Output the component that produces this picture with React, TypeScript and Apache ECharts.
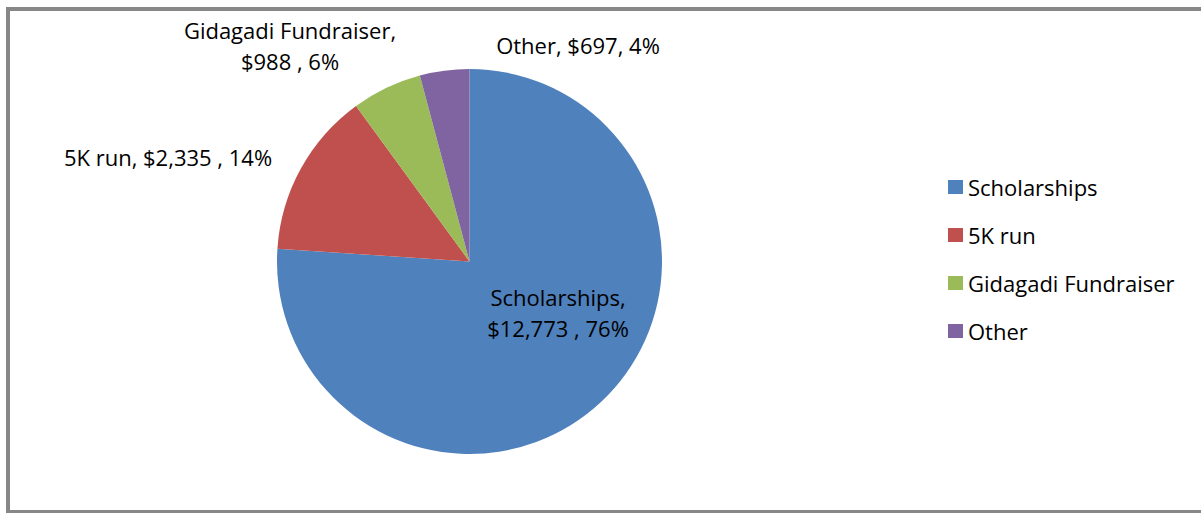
import React, { useEffect, useRef } from "react";
import * as echarts from "echarts";

const categories = ["Scholarships", "5K run", "Gidagadi Fundraiser", "Other"];
const values = [12773, 2335, 988, 697];
const labelTexts = [
  "Scholarships,\n$12,773 , 76%",
  "5K run, $2,335 , 14%",
  "Gidagadi Fundraiser,\n$988 , 6%",
  "Other, $697, 4%",
];
const colors = ["#4F81BD", "#C0504D", "#9BBB59", "#8064A2"];
const labelPositions = [
  [558, 312],
  [168, 157],
  [290, 45],
  [578, 45],
];

const FONT = "'Open Sans', sans-serif";

export default function App() {
  const ref = useRef<HTMLDivElement>(null);
  useEffect(() => {
    if (!ref.current) return;
    const chart = echarts.init(ref.current, null, { renderer: "svg" });
    chart.setOption({
      animation: false,
      backgroundColor: "#ffffff",
      color: colors,
      graphic: [
        {
          type: "rect",
          shape: { x: 8, y: 9, width: 1200, height: 503 },
          style: { fill: "none", stroke: "#878787", lineWidth: 4 },
          z: 100,
        },
      ],
      legend: {
        orient: "vertical",
        left: 943,
        top: 169,
        itemWidth: 15,
        itemHeight: 14,
        itemGap: 22,
        icon: "rect",
        data: categories,
        textStyle: {
          fontFamily: FONT,
          fontSize: 22,
          lineHeight: 26,
          color: "#000000",
        },
      },
      series: [
        {
          type: "pie",
          center: [469.5, 261.5],
          radius: 192.5,
          startAngle: 90,
          clockwise: true,
          avoidLabelOverlap: false,
          itemStyle: { borderWidth: 0 },
          label: {
            show: true,
            formatter: (p: any) => labelTexts[p.dataIndex],
            fontFamily: FONT,
            fontSize: 22,
            lineHeight: 31,
            color: "#000000",
            align: "center",
          },
          labelLine: { show: false },
          labelLayout: (p: any) => ({
            x: labelPositions[p.dataIndex][0],
            y: labelPositions[p.dataIndex][1],
            align: "center",
            verticalAlign: "middle",
          }),
          emphasis: { disabled: true },
          data: categories.map((c, i) => ({ name: c, value: values[i] })),
        },
      ],
    });
    return () => chart.dispose();
  }, []);
  return (
    <div
      ref={ref}
      style={{ position: "fixed", left: 0, top: 0, width: 1201, height: 513 }}
    />
  );
}
